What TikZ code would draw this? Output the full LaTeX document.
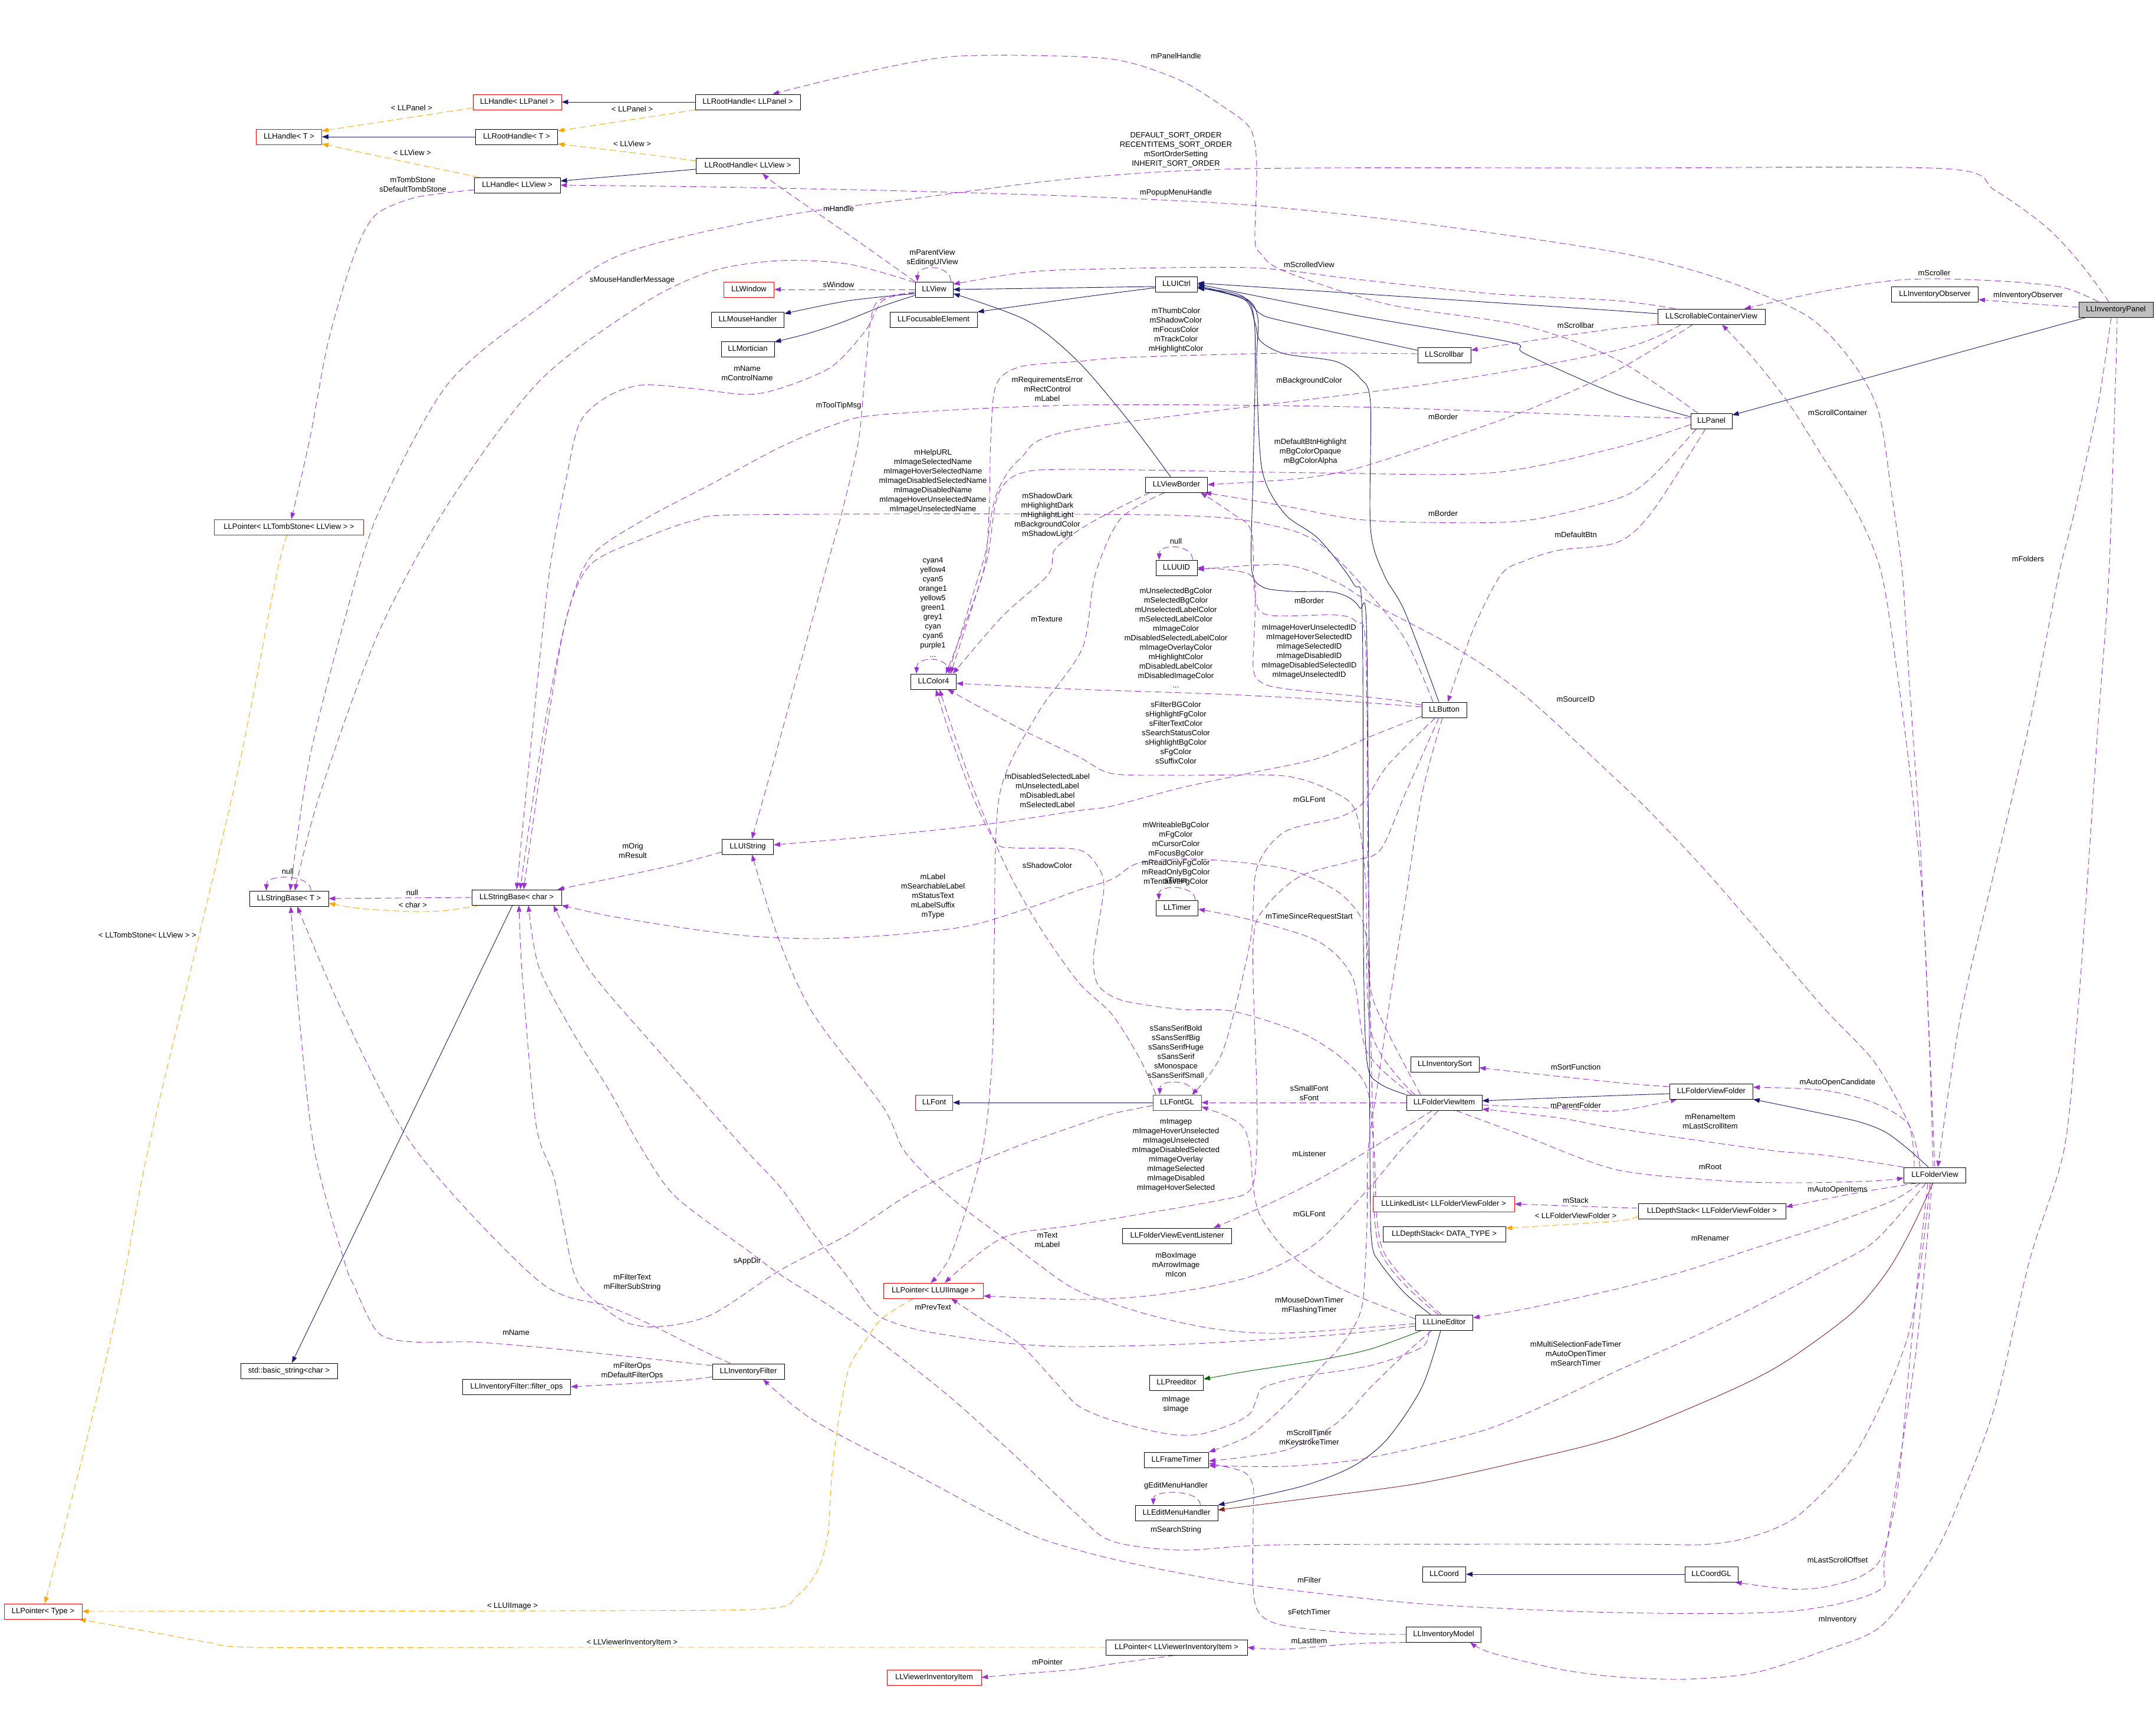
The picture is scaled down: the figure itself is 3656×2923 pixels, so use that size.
\documentclass[tikz,border=0pt]{standalone}
\usepackage{fontspec}
\setmainfont{Liberation Sans}
\usetikzlibrary{arrows.meta}
\definecolor{purp}{HTML}{9A32CD}
\definecolor{orng}{HTML}{FFA500}
\definecolor{navyb}{HTML}{191970}
\definecolor{dgreen}{HTML}{006400}
\definecolor{dred}{HTML}{8B1A1A}
\definecolor{grayf}{HTML}{BFBFBF}
\newcommand\dfont{\fontsize{13}{16}\selectfont}
\pgfdeclarelayer{bg}
\pgfsetlayers{bg,main}
\begin{document}
\begin{tikzpicture}[x=1pt,y=-1pt,
  box/.style={draw=black, fill=white, line width=0.9pt, minimum height=26pt, inner xsep=4pt, inner ysep=0pt, font=\dfont, text height=9.5pt, text depth=2.7pt},
  redbox/.style={box, draw=red},
  lbl/.style={font=\dfont, align=center, inner sep=0pt},
  tipa/.style={-{Triangle[length=11pt,width=8pt]}},
  inh/.style={draw=navyb, line width=0.9pt, tipa, smooth},
  inhp/.style={draw=dgreen, line width=0.9pt, tipa, smooth},
  inhv/.style={draw=dred, line width=0.9pt, tipa, smooth},
  use/.style={draw=purp, line width=0.9pt, dash pattern=on 11pt off 6pt, tipa, smooth},
  tmpl/.style={draw=orng, line width=0.9pt, dash pattern=on 11pt off 6pt, tipa, smooth}]
\begin{pgfonlayer}{bg}
\fill[white] (0,0) rectangle (3656,2923);
\end{pgfonlayer}
\useasboundingbox (0,0) rectangle (3656,2923);
% ---------- nodes
\node[redbox, minimum width=111pt] (hT) at (490,232) {LLHandle< T >};
\node[redbox, minimum width=150pt] (hPanel) at (877,173) {LLHandle< LLPanel >};
\node[box, minimum width=139pt] (rhT) at (876,232) {LLRootHandle< T >};
\node[box, minimum width=146pt] (hView) at (877,314) {LLHandle< LLView >};
\node[redbox, minimum width=253pt] (ptrTomb) at (490,894) {LLPointer< LLTombStone< LLView > >};
\node[box, minimum width=178pt] (rhPanel) at (1268,173) {LLRootHandle< LLPanel >};
\node[box, minimum width=175pt] (rhView) at (1268,281) {LLRootHandle< LLView >};
\node[box, minimum width=64pt] (view) at (1584,491) {LLView};
\node[redbox, minimum width=85pt] (window) at (1270,491) {LLWindow};
\node[box, minimum width=123pt] (mouse) at (1268,542) {LLMouseHandler};
\node[box, minimum width=90pt] (mort) at (1268,592) {LLMortician};
\node[box, minimum width=148pt] (focus) at (1583,542) {LLFocusableElement};
\node[box, minimum width=71pt] (uictrl) at (1995,482) {LLUICtrl};
\node[box, minimum width=90pt] (scrollbar) at (2449,602) {LLScrollbar};
\node[box, minimum width=105pt] (vborder) at (1995,822) {LLViewBorder};
\node[box, minimum width=70pt] (uuid) at (1995,963) {LLUUID};
\node[box, minimum width=182pt] (scv) at (2902,537) {LLScrollableContainerView};
\node[box, minimum width=147pt] (invobs) at (3281,499) {LLInventoryObserver};
\node[box, fill=grayf, minimum width=126pt] (invpanel) at (3588,525) {LLInventoryPanel};
\node[box, minimum width=70pt] (panel) at (2902,714) {LLPanel};
\node[box, minimum width=134pt] (sbT) at (490,1524) {LLStringBase< T >};
\node[box, minimum width=152pt] (sbChar) at (876,1522) {LLStringBase< char >};
\node[box, minimum width=77pt] (color4) at (1583,1156) {LLColor4};
\node[box, minimum width=87pt] (uistring) at (1268,1436) {LLUIString};
\node[redbox, minimum width=63pt] (font) at (1584,1870) {LLFont};
\node[box, minimum width=76pt] (button) at (2449,1204) {LLButton};
\node[box, minimum width=71pt] (timer) at (1996,1540) {LLTimer};
\node[redbox, minimum width=82pt] (fontgl) at (1996,1870) {LLFontGL};
\node[box, minimum width=116pt] (invsort) at (2450,1805) {LLInventorySort};
\node[box, minimum width=128pt] (fvitem) at (2449,1870) {LLFolderViewItem};
\node[box, minimum width=141pt] (fvfolder) at (2902,1851) {LLFolderViewFolder};
\node[box, minimum width=164pt] (bstring) at (490,2325) {std::basic\_string<char >};
\node[box, minimum width=183pt] (filterops) at (876,2352) {LLInventoryFilter::filter\_ops};
\node[redbox, minimum width=132pt] (ptrType) at (73,2733) {LLPointer< Type >};
\node[box, minimum width=122pt] (invfilter) at (1269,2326) {LLInventoryFilter};
\node[redbox, minimum width=169pt] (ptrImage) at (1583,2189) {LLPointer< LLUIImage >};
\node[redbox, minimum width=160pt] (vinvitem) at (1584,2845) {LLViewerInventoryItem};
\node[redbox, minimum width=240pt] (linkedlist) at (2448,2042) {LLLinkedList< LLFolderViewFolder >};
\node[box, minimum width=208pt] (dsType) at (2449,2093) {LLDepthStack< DATA\_TYPE >};
\node[box, minimum width=185pt] (fvlistener) at (1996,2096) {LLFolderViewEventListener};
\node[box, minimum width=97pt] (lineedit) at (2449,2243) {LLLineEditor};
\node[box, minimum width=91pt] (preedit) at (1995,2345) {LLPreeditor};
\node[box, minimum width=109pt] (frametimer) at (1995,2476) {LLFrameTimer};
\node[box, minimum width=140pt] (editmenu) at (1995,2566) {LLEditMenuHandler};
\node[box, minimum width=73pt] (coord) at (2449,2670) {LLCoord};
\node[box, minimum width=127pt] (invmodel) at (2448,2772) {LLInventoryModel};
\node[box, minimum width=240pt] (ptrVII) at (1995,2794) {LLPointer< LLViewerInventoryItem >};
\node[box, minimum width=105pt] (folderview) at (3281,1993) {LLFolderView};
\node[box, minimum width=250pt] (dsFolder) at (2903,2054) {LLDepthStack< LLFolderViewFolder >};
\node[box, minimum width=90pt] (coordgl) at (2902,2670) {LLCoordGL};
% ---------- labels
\node[lbl] (l1) at (698,183) {< LLPanel >};
\node[lbl] (l2) at (1072,185) {< LLPanel >};
\node[lbl] (l3) at (1072,244) {< LLView >};
\node[lbl] (l4) at (699,259) {< LLView >};
\node[lbl] (l5) at (700,313) {mTombStone\\sDefaultTombStone};
\node[lbl] (l6) at (250,1586) {< LLTombStone< LLView > >};
\node[lbl] (l7) at (699,1514) {null};
\node[lbl] (l8) at (700,1535) {< char >};
\node[lbl] (l9) at (488,1478) {null};
\node[lbl] (l10) at (869,2724) {< LLUIImage >};
\node[lbl] (l11) at (1072,2786) {< LLViewerInventoryItem >};
\node[lbl] (l12) at (875,2260) {mName};
\node[lbl] (l13) at (1072,2175) {mFilterText\\mFilterSubString};
\node[lbl] (l14) at (1267,2139) {sAppDir};
\node[lbl] (l15) at (1072,2325) {mFilterOps\\mDefaultFilterOps};
\node[lbl] (l16) at (1582,2217) {mPrevText};
\node[lbl] (l17) at (1776,2103) {mText\\mLabel};
\node[lbl] (l18) at (1776,2819) {mPointer};
\node[lbl] (l19) at (1994,95) {mPanelHandle};
\node[lbl] (l20) at (1994,254) {DEFAULT\_SORT\_ORDER\\RECENTITEMS\_SORT\_ORDER\\mSortOrderSetting\\INHERIT\_SORT\_ORDER};
\node[lbl] (l21) at (1994,327) {mPopupMenuHandle};
\node[lbl] (l22) at (2220,449) {mScrolledView};
\node[lbl] (l23) at (1422,354) {mHandle};
\node[lbl] (l24) at (1581,437) {mParentView\\sEditingUIView};
\node[lbl] (l25) at (1422,483) {sWindow};
\node[lbl] (l26) at (1072,475) {sMouseHandlerMessage};
\node[lbl] (l27) at (1267,633) {mName\\mControlName};
\node[lbl] (l28) at (1422,688) {mToolTipMsg};
\node[lbl] (l29) at (1776,660) {mRequirementsError\\mRectControl\\mLabel};
\node[lbl] (l30) at (1994,560) {mThumbColor\\mShadowColor\\mFocusColor\\mTrackColor\\mHighlightColor};
\node[lbl] (l31) at (2672,552) {mScrollbar};
\node[lbl] (l32) at (2220,646) {mBackgroundColor};
\node[lbl] (l33) at (2447,707) {mBorder};
\node[lbl] (l34) at (2222,766) {mDefaultBtnHighlight\\mBgColorOpaque\\mBgColorAlpha};
\node[lbl] (l35) at (2447,871) {mBorder};
\node[lbl] (l36) at (2672,907) {mDefaultBtn};
\node[lbl] (l37) at (1582,816) {mHelpURL\\mImageSelectedName\\mImageHoverSelectedName\\mImageDisabledSelectedName\\mImageDisabledName\\mImageHoverUnselectedName\\mImageUnselectedName};
\node[lbl] (l38) at (1776,874) {mShadowDark\\mHighlightDark\\mHighlightLight\\mBackgroundColor\\mShadowLight};
\node[lbl] (l39) at (1994,918) {null};
\node[lbl] (l40) at (1582,1030) {cyan4\\yellow4\\cyan5\\orange1\\yellow5\\green1\\grey1\\cyan\\cyan6\\purple1\\...};
\node[lbl] (l41) at (1775,1050) {mTexture};
\node[lbl] (l42) at (1994,1082) {mUnselectedBgColor\\mSelectedBgColor\\mUnselectedLabelColor\\mSelectedLabelColor\\mImageColor\\mDisabledSelectedLabelColor\\mImageOverlayColor\\mHighlightColor\\mDisabledLabelColor\\mDisabledImageColor\\...};
\node[lbl] (l43) at (2220,1019) {mBorder};
\node[lbl] (l44) at (2220,1105) {mImageHoverUnselectedID\\mImageHoverSelectedID\\mImageSelectedID\\mImageDisabledID\\mImageDisabledSelectedID\\mImageUnselectedID};
\node[lbl] (l45) at (2672,1186) {mSourceID};
\node[lbl] (l46) at (3116,700) {mScrollContainer};
\node[lbl] (l47) at (3439,948) {mFolders};
\node[lbl] (l48) at (3280,463) {mScroller};
\node[lbl] (l49) at (3439,501) {mInventoryObserver};
\node[lbl] (l50) at (1994,1243) {sFilterBGColor\\sHighlightFgColor\\sFilterTextColor\\sSearchStatusColor\\sHighlightBgColor\\sFgColor\\sSuffixColor};
\node[lbl] (l51) at (1776,1341) {mDisabledSelectedLabel\\mUnselectedLabel\\mDisabledLabel\\mSelectedLabel};
\node[lbl] (l52) at (2220,1356) {mGLFont};
\node[lbl] (l53) at (1073,1443) {mOrig\\mResult};
\node[lbl] (l54) at (1582,1520) {mLabel\\mSearchableLabel\\mStatusText\\mLabelSuffix\\mType};
\node[lbl] (l55) at (1776,1468) {sShadowColor};
\node[lbl] (l56) at (1994,1448) {mWriteableBgColor\\mFgColor\\mCursorColor\\mFocusBgColor\\mReadOnlyFgColor\\mReadOnlyBgColor\\mTentativeFgColor};
\node[lbl] (l57) at (1994,1493) {sTimer};
\node[lbl] (l58) at (2220,1555) {mTimeSinceRequestStart};
\node[lbl] (l59) at (1994,1784) {sSansSerifBold\\sSansSerifBig\\sSansSerifHuge\\sSansSerif\\sMonospace\\sSansSerifSmall};
\node[lbl] (l60) at (2220,1854) {sSmallFont\\sFont};
\node[lbl] (l61) at (2672,1810) {mSortFunction};
\node[lbl] (l62) at (2672,1875) {mParentFolder};
\node[lbl] (l63) at (3116,1836) {mAutoOpenCandidate};
\node[lbl] (l64) at (2900,1902) {mRenameItem\\mLastScrollItem};
\node[lbl] (l65) at (1994,1959) {mImagep\\mImageHoverUnselected\\mImageUnselected\\mImageDisabledSelected\\mImageOverlay\\mImageSelected\\mImageDisabled\\mImageHoverSelected};
\node[lbl] (l66) at (2220,1957) {mListener};
\node[lbl] (l67) at (2900,1979) {mRoot};
\node[lbl] (l68) at (2672,2036) {mStack};
\node[lbl] (l69) at (2672,2062) {< LLFolderViewFolder >};
\node[lbl] (l70) at (3116,2018) {mAutoOpenItems};
\node[lbl] (l71) at (2220,2059) {mGLFont};
\node[lbl] (l72) at (1994,2145) {mBoxImage\\mArrowImage\\mIcon};
\node[lbl] (l73) at (2900,2100) {mRenamer};
\node[lbl] (l74) at (2220,2214) {mMouseDownTimer\\mFlashingTimer};
\node[lbl] (l75) at (2672,2296) {mMultiSelectionFadeTimer\\mAutoOpenTimer\\mSearchTimer};
\node[lbl] (l76) at (1994,2382) {mImage\\sImage};
\node[lbl] (l77) at (2220,2439) {mScrollTimer\\mKeystrokeTimer};
\node[lbl] (l78) at (1994,2520) {gEditMenuHandler};
\node[lbl] (l79) at (1994,2595) {mSearchString};
\node[lbl] (l80) at (2220,2680) {mFilter};
\node[lbl] (l81) at (2220,2734) {sFetchTimer};
\node[lbl] (l82) at (2220,2783) {mLastItem};
\node[lbl] (l83) at (3116,2646) {mLastScrollOffset};
\node[lbl] (l84) at (3116,2747) {mInventory};
% ---------- edges
\begin{pgfonlayer}{bg}
% inheritance
\draw[inh] (rhT) -- (hT);
\draw[inh] (rhPanel) -- (hPanel);
\draw[inh] ([yshift=-6pt]rhView.west) -- ([yshift=7pt]hView.east);
\draw[inh] plot coordinates {([yshift=-7pt]view.west) (1439,510) ([yshift=10pt]mouse.east)};
\draw[inh] plot coordinates {([yshift=-10pt]view.west) (1497,519) (1427,547) (1369,566) ([yshift=12pt]mort.east)};
\draw[inh] ([yshift=-4pt]uictrl.west) -- (view.east);
\draw[inh] plot coordinates {([yshift=-6pt]uictrl.west) (1828,505) ([yshift=13pt]focus.east)};
\draw[inh] plot coordinates {([yshift=8pt]scrollbar.west) (2178,545) (2137,532) (2115,510) (2070,494) ([yshift=-3pt]uictrl.east)};
\draw[inh] ([yshift=5pt]scv.west) -- (2742,527) -- ([yshift=2pt]uictrl.east);
\draw[inh] plot coordinates {([yshift=7pt]panel.west) (2742,669) (2586,600) (2560,580) (2300,535) (uictrl.east)};
\draw[inh] ([xshift=13pt]invpanel.south west) -- ([yshift=10pt]panel.east);
\draw[inh] plot coordinates {([xshift=-10pt]vborder.north) (1915,715) (1828,613) (1742,544) ([yshift=-7pt]view.east)};
\draw[inh] plot coordinates {([xshift=-9pt]button.north) (2382,1037) (2347,975) (2324,896) (2324,684) (2306,641) (2265,613) (2178,600) (2137,578) (2128,547) (2110,508) ([yshift=-5pt]uictrl.east)};
\draw[inh] plot coordinates {(fvitem.north west) (2340,1838) (2318,1800) (2312,1600) (2310,1050) (2295,990) (2236,914) (2178,871) (2140,796) (2131,622) (2133,540) (2112,506) ([yshift=-6pt]uictrl.east)};
\draw[inh] plot coordinates {([xshift=-23pt]lineedit.north) (2382,2193) (2341,2143) (2326,2105) (2323,1950) (2318,1100) (2305,1030) (2265,1005) (2190,1003) (2140,995) (2122,960) (2125,800) (2128,560) (2108,503) ([yshift=-7pt]uictrl.east)};
\draw[inh] plot coordinates {([xshift=-6pt]lineedit.south) (2411,2353) (2353,2440) (2294,2487) (2207,2521) (editmenu.north east)};
\draw[inhp] plot coordinates {([xshift=-38pt]lineedit.south) (2324,2288) (2236,2307) (2120,2325) ([yshift=6pt]preedit.east)};
\draw[inhv] plot coordinates {([xshift=-3pt]folderview.south) (3237,2093) (3197,2161) (3138,2229) (3022,2313) (2917,2366) (2742,2437) (2586,2477) (2411,2515) (2236,2539) ([yshift=5pt]editmenu.east)};
\draw[inh] plot coordinates {([xshift=-11pt]folderview.north) (3237,1950) (3197,1920) (3150,1902) (3063,1883) (fvfolder.south east)};
\draw[inh] plot coordinates {([yshift=-4pt]fvfolder.west) (2742,1858) ([yshift=3pt]fvitem.east)};
\draw[inh] (fontgl) -- (font);
\draw[inh] (coordgl) -- (coord);
\draw[inh] ([xshift=-7pt]sbChar.south) -- ([xshift=5pt]bstring.north);
% templates
\draw[tmpl] ([yshift=-10pt]hPanel.west) -- ([yshift=10pt]hT.east);
\draw[tmpl] (rhPanel.south west) -- ([yshift=10pt]rhT.east);
\draw[tmpl] plot coordinates {([yshift=8pt]rhView.west) (1089,261) ([yshift=-12pt]rhT.east)};
\draw[tmpl] plot coordinates {([xshift=9pt]hView.north west) (699,277) ([yshift=-12pt]hT.east)};
\draw[tmpl] plot coordinates {([xshift=13pt]sbChar.south west) (758,1544) (700,1546) (612,1541) ([yshift=-8pt]sbT.east)};
\draw[tmpl] plot coordinates {([xshift=-3pt]ptrTomb.south) (469,975) (408,1286) (350,1535) (251,1950) (204,2198) (146,2446) ([xshift=3pt]ptrType.north)};
\draw[tmpl] plot coordinates {([xshift=-34pt]ptrImage.south) (1497,2235) (1468,2273) (1439,2322) (1421,2415) (1410,2508) (1404,2601) (1386,2664) (1351,2707) (1293,2729) (914,2732) (ptrType.east)};
\draw[tmpl] plot coordinates {(ptrVII.west) (914,2794) (437,2794) (350,2785) (262,2769) ([xshift=-5pt]ptrType.south east)};
\draw[tmpl] plot coordinates {([yshift=-8pt]dsFolder.west) (2742,2071) ([yshift=10pt]dsType.east)};
% usage
\draw[use] plot coordinates {([yshift=-8pt]hView.west) (758,327) (700,336) (641,361) (612,404) (583,485) (554,591) (525,746) ([xshift=4pt]ptrTomb.north)};
\draw[use] (sbChar.west) -- (sbT.east);
\draw[use] ([xshift=-30pt]sbT.north east) .. controls (527,1482) and (452,1482) .. ([xshift=29pt]sbT.north west);
\draw[use] plot coordinates {([xshift=-12pt]invpanel.north) (3529,448) (3471,386) (3383,323) (3296,286) (2742,285) (2120,286) (1828,302) (1555,336) (1322,367) (1060,429) (914,522) (758,653) (641,871) (583,1056) (525,1286) ([xshift=2pt]sbT.north)};
\draw[use] plot coordinates {([yshift=12pt]view.west) (1439,448) (1322,442) (1206,460) (1089,516) (914,647) (758,858) (641,1075) (542,1348) ([xshift=10pt]sbT.north)};
\draw[use] ([xshift=-4pt]view.north east) .. controls (1612,448) and (1556,448) .. ([xshift=4pt]view.north west);
\draw[use] (view.west) -- (window.east);
\draw[use] plot coordinates {(view.north west) (1439,398) (1322,317) ([xshift=25pt]rhView.south)};
\draw[use] plot coordinates {([yshift=-4pt]view.west) (1497,510) (1468,560) (1410,622) (1322,659) (1264,669) (1176,659) (1089,653) (1031,672) (984,715) (961,808) (931,975) (898,1286) (sbChar.north)};
\draw[use] plot coordinates {([yshift=-6pt]view.west) (1485,515) (1468,622) (1456,746) (1427,871) (1398,975) (1322,1255) ([xshift=7pt]uistring.north)};
\draw[use] plot coordinates {([xshift=-30pt]invpanel.north) (3500,488) (3412,478) (3296,473) (3208,476) (3092,494) ([xshift=56pt]scv.north)};
\draw[use] plot coordinates {([yshift=4pt]invpanel.west) (3440,515) ([yshift=-9pt]invobs.east)};
\draw[use] plot coordinates {([xshift=-8pt]invpanel.south) (3558,684) (3517,871) (3491,975) (3442,1224) (3383,1473) (3325,1721) ([xshift=5pt]folderview.north)};
\draw[use] plot coordinates {([xshift=2pt]invpanel.south) (3588,622) (3576,975) (3558,1224) (3541,1473) (3523,1721) (3500,1950) (3442,2136) (3383,2384) (3325,2539) (3278,2639) (3191,2757) (3092,2800) (2975,2837) (2859,2848) (2742,2844) (2644,2831) (2528,2803) ([xshift=45pt]invmodel.south)};
\draw[use] plot coordinates {([xshift=-3pt]folderview.north) (3272,1784) (3261,1535) (3243,1348) (3220,1162) (3191,975) (3150,871) (3092,777) (3033,684) (2975,610) ([xshift=18pt]scv.south)};
\draw[use] plot coordinates {(folderview.north) (3267,1659) (3255,1410) (3238,1162) (3226,975) (3208,840) (3185,697) (3138,610) (3063,535) (2917,473) (2742,428) (2411,379) (2120,348) (1828,333) (1497,323) (1205,317) (hView.east)};
\draw[use] plot coordinates {([xshift=-23pt]panel.north) (2742,610) (2586,553) (2353,516) (2178,460) (2137,429) (2128,404) (2131,280) (2120,218) (2073,180) (2003,137) (1915,106) (1828,96) (1614,96) (1439,128) ([xshift=42pt]rhPanel.north)};
\draw[use] plot coordinates {([xshift=30pt]scv.north west) (2742,510) (2528,498) (2294,473) (2120,454) (1828,457) (1730,463) ([yshift=9pt]view.east)};
\draw[use] plot coordinates {(scv.south west) (2742,557) (2615,575) ([yshift=8pt]scrollbar.east)};
\draw[use] plot coordinates {([xshift=40pt]scv.south west) (2742,594) (2411,653) (1828,728) (1730,778) (1689,840) (1672,933) (1660,975) ([xshift=25pt]color4.north)};
\draw[use] plot coordinates {([xshift=60pt]scv.south west) (2742,628) (2586,697) (2411,759) (2294,796) (2200,812) (vborder.east)};
\draw[use] plot coordinates {([xshift=10pt]panel.south west) (2800,810) (2742,846) (2586,883) (2411,886) (2294,880) (2178,858) ([xshift=-5pt]vborder.south east)};
\draw[use] plot coordinates {([yshift=5pt]panel.west) (2742,706) (2294,690) (1828,687) (1497,703) (1410,722) (1322,759) (1206,821) (1089,883) (1001,945) (960,1050) (920,1250) ([xshift=6pt]sbChar.north)};
\draw[use] plot coordinates {([yshift=-6pt]panel.west) (2742,759) (2528,802) (2236,802) (1828,796) (1730,803) (1692,840) (1677,933) (1666,975) ([xshift=29pt]color4.north)};
\draw[use] plot coordinates {([xshift=-10pt]panel.south) (2800,870) (2742,920) (2644,933) (2586,951) (2545,975) (2498,1068) ([xshift=6pt]button.north)};
\draw[use] plot coordinates {([yshift=2pt]scrollbar.west) (2178,599) (1915,606) (1828,613) (1730,622) (1689,653) (1680,746) (1677,871) (1666,975) ([xshift=21pt]color4.north)};
\draw[use] plot coordinates {([xshift=-45pt]vborder.south) (1880,870) (1828,900) (1788,933) (1777,975) (1700,1045) ([xshift=33pt]color4.north)};
\draw[use] plot coordinates {([xshift=-20pt]vborder.south) (1900,880) (1857,975) (1835,1100) (1759,1211) (1695,1348) (1686,1597) (1683,1784) (1666,1950) (1614,2124) ([xshift=-5pt]ptrImage.north)};
\draw[use] plot coordinates {([yshift=5pt]button.west) (2236,1186) (2061,1177) (1828,1169) ([yshift=-3pt]color4.east)};
\draw[use] plot coordinates {([yshift=8pt]button.west) (2353,1186) (2178,1168) (2137,1156) (2125,1131) (2128,1037) (2120,975) (uuid.east)};
\draw[use] plot coordinates {([xshift=-10pt]lineedit.north) (2340,2120) (2328,1900) (2320,1500) (2316,1100) (2300,1055) (2265,1043) (2150,1043) (2128,1010) (2122,902) (2090,871) ([xshift=-12pt]vborder.south east)};
\draw[use] plot coordinates {([yshift=-11pt]button.west) (2324,1249) (2236,1286) (2120,1311) (2003,1336) (1886,1367) (1828,1375) (1672,1398) (1497,1417) ([yshift=3pt]uistring.east)};
\draw[use] plot coordinates {([xshift=-19pt]button.north) (2380,1080) (2294,975) (2236,921) (2178,896) (2061,877) (1828,872) (1264,873) (1176,883) (1089,914) (1001,958) (960,1050) (925,1250) ([xshift=12pt]sbChar.north)};
\draw[use] plot coordinates {([xshift=-15pt]button.south) (2353,1298) (2312,1361) (2271,1386) (2178,1411) (2131,1473) (2120,1597) (2073,1784) ([xshift=25pt]fontgl.north)};
\draw[use] plot coordinates {([xshift=-9pt]button.south) (2382,1348) (2341,1441) (2294,1460) (2207,1485) (2149,1535) (2125,1597) (2131,1846) (2131,1950) (2120,2018) (2061,2037) (1828,2077) (1701,2099) ([xshift=19pt]ptrImage.north)};
\draw[use] plot coordinates {([xshift=-40pt]fvitem.north) (2330,1700) (2318,1597) (2306,1553) (2265,1510) (2178,1473) (2032,1457) (1933,1463) (1886,1491) (1828,1510) (1759,1535) (1672,1563) (1614,1575) (1497,1587) (1380,1592) (1264,1587) (1147,1572) (1031,1553) (sbChar.south east)};
\draw[use] plot coordinates {([xshift=-50pt]fvitem.north) (2325,1750) (2316,1500) (2300,1380) (2265,1345) (2178,1316) (2003,1315) (1886,1312) (1828,1283) (1730,1236) ([xshift=24pt]color4.south)};
\draw[use] plot coordinates {([xshift=-5pt]lineedit.north) (2345,2120) (2330,1950) (2318,1846) (2277,1796) (2207,1752) (2090,1715) (2003,1712) (1904,1697) (1863,1672) (1854,1628) (1863,1566) (1872,1504) (1863,1472) (1828,1441) (1718,1438) (1689,1429) (1654,1361) (1614,1255) ([xshift=4pt]color4.south)};
\draw[use] plot coordinates {([xshift=-36pt]fontgl.north) (1933,1796) (1886,1721) (1828,1665) (1759,1566) (1701,1460) (1643,1317) ([xshift=10pt]color4.south)};
\draw[use] ([xshift=-12pt]fontgl.north east) .. controls (2025,1830) and (1967,1830) .. ([xshift=12pt]fontgl.north west);
\draw[use] (fvitem.west) -- (fontgl.east);
\draw[use] plot coordinates {([xshift=-20pt]fvitem.south) (2312,1956) (2236,2000) (2149,2043) ([xshift=62pt]fvlistener.north)};
\draw[use] plot coordinates {([xshift=-10pt]fvitem.south) (2376,1950) (2324,2012) (2236,2105) (2149,2155) (2061,2180) (1945,2198) (1828,2204) ([yshift=-9pt]ptrImage.east)};
\draw[use] plot coordinates {([xshift=-55pt]fvitem.north) (2318,1784) (2294,1659) (2236,1597) (2120,1560) ([yshift=-2pt]timer.east)};
\draw[use] plot coordinates {([xshift=20pt]fvitem.south) (2586,1927) (2742,1984) (2928,2003) (3052,2006) (3176,2003) ([yshift=-5pt]folderview.west)};
\draw[use] plot coordinates {([yshift=-4pt]fvitem.east) (2644,1880) (2742,1884) ([xshift=-58pt]fvfolder.south)};
\draw[use] plot coordinates {(folderview.north west) (3100,1960) (2993,1950) (2742,1914) (2644,1896) ([yshift=-11pt]fvitem.east)};
\draw[use] plot coordinates {([xshift=-25pt]folderview.north) (3237,1908) (3179,1871) (3092,1849) ([yshift=7pt]fvfolder.east)};
\draw[use] plot coordinates {([yshift=8pt]fvfolder.west) (2742,1836) ([yshift=-6pt]invsort.east)};
\draw[use] plot coordinates {([xshift=-30pt]folderview.south) (3150,2023) ([yshift=7pt]dsFolder.east)};
\draw[use] plot coordinates {([yshift=5pt]dsFolder.west) (2742,2048) (linkedlist.east)};
\draw[use] plot coordinates {([xshift=-25pt]folderview.south) (3208,2037) (3092,2080) (2975,2117) (2859,2155) (2742,2186) (2586,2220) ([yshift=8pt]lineedit.east)};
\draw[use] plot coordinates {([xshift=-15pt]folderview.south) (3179,2105) (3092,2155) (2975,2217) (2859,2273) (2742,2325) (2644,2372) (2528,2422) (2411,2453) (2294,2477) (2178,2487) ([yshift=-10pt]frametimer.east)};
\draw[use] plot coordinates {([xshift=-8pt]folderview.south) (3237,2260) (3150,2459) (3057,2564) (2987,2601) (2899,2619) (2742,2619) (2178,2620) (2003,2629) (1886,2614) (1828,2570) (1730,2477) (1614,2372) (1497,2279) (1410,2217) (1322,2161) (1264,2118) (1147,2031) (1089,1950) (1031,1846) (972,1752) (914,1641) ([xshift=20pt]sbChar.south)};
\draw[use] plot coordinates {([xshift=-5pt]folderview.south) (3249,2291) (3197,2633) (3185,2698) (3033,2733) (2742,2735) (2411,2720) (2120,2688) (1945,2657) (1828,2629) (1730,2595) (1555,2502) (1380,2409) ([xshift=25pt]invfilter.south)};
\draw[use] plot coordinates {([xshift=-12pt]folderview.south) (3255,2136) (3237,2322) (3220,2508) (3203,2601) (3185,2651) (3150,2676) (3092,2692) (3033,2695) ([xshift=-5pt]coordgl.south east)};
\draw[use] plot coordinates {(invmodel.south west) (2294,2788) (2178,2797) (ptrVII.east)};
\draw[use] plot coordinates {(invmodel.west) (2294,2770) (2178,2757) (2137,2738) (2125,2695) (2125,2571) (2125,2521) (2108,2496) ([yshift=-6pt]frametimer.east)};
\draw[use] plot coordinates {([xshift=-3pt]ptrVII.south) (1886,2822) (1828,2831) (1730,2839) (vinvitem.east)};
\draw[use] plot coordinates {([xshift=-3pt]button.south) (2411,1348) (2382,1535) (2353,1721) (2335,1846) (2320,1950) (2318,2074) (2312,2198) (2300,2242) (2271,2286) (2236,2323) (2178,2384) (2120,2434) (frametimer.north east)};
\draw[use] plot coordinates {([xshift=-21pt]lineedit.south) (2382,2297) (2324,2353) (2265,2415) (2178,2460) ([yshift=-2pt]frametimer.east)};
\draw[use] plot coordinates {([xshift=-26pt]lineedit.south) (2411,2285) (2324,2316) (2207,2335) (2143,2353) (2131,2372) (2120,2397) (2090,2415) (2032,2433) (1974,2431) (1886,2409) (1828,2384) (1788,2342) (1730,2280) (1672,2242) ([xshift=30pt]ptrImage.south)};
\draw[use] plot coordinates {([yshift=6pt]lineedit.west) (2294,2195) (2236,2164) (2178,2118) (2137,2062) (2125,2012) (2120,1950) (2110,1915) (2085,1895) ([yshift=-7pt]fontgl.east)};
\draw[use] plot coordinates {([yshift=-2pt]lineedit.west) (2178,2261) (2061,2254) (1945,2229) (1828,2189) (1759,2143) (1701,2099) (1643,2056) (1584,2006) (1532,1950) (1497,1877) (1380,1721) (1322,1597) ([xshift=7pt]uistring.south)};
\draw[use] plot coordinates {([yshift=-6pt]lineedit.west) (2294,2261) (2178,2270) (2003,2280) (1828,2284) (1730,2280) (1643,2270) (1555,2255) (1497,2236) (1474,2217) (1439,2168) (1380,2093) (1322,2012) (1264,1950) (1118,1784) (1001,1647) ([xshift=-14pt]sbChar.south east)};
\draw[use] plot coordinates {([yshift=-5pt]fontgl.west) (1886,1889) (1828,1908) (1710,1950) (1555,2018) (1439,2093) (1322,2155) (1206,2230) (1118,2250) (1060,2242) (1001,2199) (972,2155) (940,2000) (909,1908) (886,1659) ([xshift=4pt]sbChar.south)};
\draw[use] plot coordinates {([yshift=10pt]invfilter.west) (1060,2300) (914,2285) (800,2276) (700,2276) (641,2260) (600,2180) (583,2136) (533,1950) (507,1721) ([xshift=3pt]sbT.south)};
\draw[use] plot coordinates {([xshift=-30pt]invfilter.north) (1190,2290) (1100,2245) (1030,2215) (914,2173) (705,1950) (583,1721) ([xshift=14pt]sbT.south)};
\draw[use] plot coordinates {([yshift=-9pt]invfilter.west) (1147,2342) (filterops.east)};
\draw[use] plot coordinates {([yshift=-9pt]uistring.west) (1147,1466) (1060,1485) ([xshift=-7pt]sbChar.north east)};
\draw[use] plot coordinates {([xshift=-35pt]folderview.north) (3237,1908) (3179,1802) (3092,1709) (2975,1572) (2888,1472) (2800,1379) (2742,1323) (2586,1180) (2469,1099) (2324,1022) (2265,987) (2178,958) ([yshift=-3pt]uuid.east)};
\draw[use] ([xshift=-8pt]uuid.north east) .. controls (2022,922) and (1966,922) .. ([xshift=6pt]uuid.north west);
\draw[use] ([xshift=-5pt]timer.north east) .. controls (2026,1500) and (1965,1500) .. ([xshift=5pt]timer.north west);
\draw[use] ([xshift=-30pt]editmenu.north east) .. controls (2035,2526) and (1956,2526) .. ([xshift=31pt]editmenu.north west);
\draw[use] ([xshift=-11pt]color4.north east) .. controls (1611,1112) and (1555,1112) .. ([xshift=10pt]color4.north west);
\end{pgfonlayer}
\end{tikzpicture}
\end{document}
